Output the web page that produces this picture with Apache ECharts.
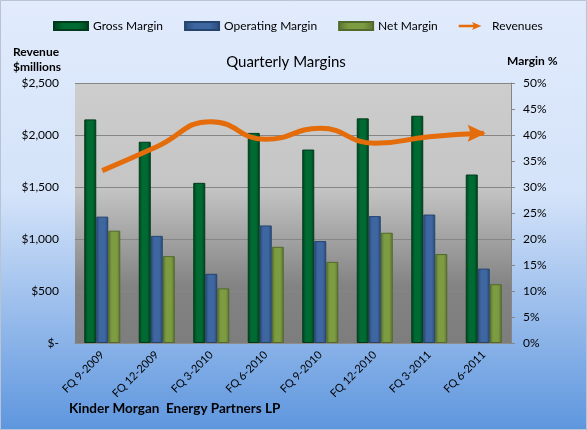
<!DOCTYPE html>
<html>
<head>
<meta charset="utf-8">
<script src="https://cdn.jsdelivr.net/npm/echarts@6/dist/echarts.min.js"></script>
<style>
  html, body { margin: 0; padding: 0; }
  #chart { width: 587px; height: 430px; }
</style>
</head>
<body>
<div id="chart"></div>
<script>
const quarters = ['FQ 9-2009', 'FQ 12-2009', 'FQ 3-2010', 'FQ 6-2010', 'FQ 9-2010', 'FQ 12-2010', 'FQ 3-2011', 'FQ 6-2011']
const grossMargin = [43.0, 38.7, 30.8, 40.4, 37.2, 43.2, 43.7, 32.4]
const operatingMargin = [24.3, 20.6, 13.3, 22.6, 19.6, 24.4, 24.7, 14.3]
const netMargin = [21.6, 16.7, 10.5, 18.5, 15.6, 21.2, 17.1, 11.3]
const revenues = [1657, 1887, 2128, 1959, 2064, 1920, 1984, 2016]

const font = 'Lato, "Open Sans", sans-serif'

// bevelled look for the bars
function barFill(edge, mid) {
    return new echarts.graphic.LinearGradient(0, 0, 1, 0, [
        { offset: 0, color: edge },
        { offset: 0.3, color: mid },
        { offset: 0.7, color: mid },
        { offset: 1, color: edge }
    ])
}

const myChart = echarts.init(document.getElementById('chart'))

// arrow head on the last revenue point
const arrowHead = 'path://M0,0 L18,8.5 L0,17 L3,8.5 Z'
const lastRev = revenues.length - 1
const revData = revenues.map((v, i) => i === lastRev
    ? { value: v, symbol: arrowHead, symbolSize: [18, 17], symbolOffset: [-7, 0] }
    : v)

const option = {
    animation: false,
    backgroundColor: new echarts.graphic.LinearGradient(0, 0, 0, 1, [
        { offset: 0, color: '#e1ebfc' },
        { offset: 0.45, color: '#d4e3f9' },
        { offset: 1, color: '#5e96de' }
    ]),
    textStyle: { fontFamily: font, color: '#000' },
    graphic: [{
        type: 'rect',
        shape: { x: 0.5, y: 0.5, width: 586, height: 429 },
        style: { fill: 'none', stroke: '#b8c4d4', lineWidth: 1 },
        silent: true
    }],
    title: [
        { text: 'Quarterly Margins', left: 286, top: 55, textAlign: 'center', padding: 0,
          textStyle: { fontSize: 15, fontWeight: 'normal', fontFamily: font, color: '#000' } },
        { text: 'Revenue\n$millions', left: 13, top: 45, padding: 0,
          textStyle: { fontSize: 12, fontWeight: 'bold', fontFamily: font, color: '#000', lineHeight: 15 } },
        { text: 'Margin %', left: 507, top: 55, padding: 0,
          textStyle: { fontSize: 12, fontWeight: 'bold', fontFamily: font, color: '#000' } },
        { text: 'Kinder Morgan  Energy Partners LP', left: 69, top: 402, padding: 0,
          textStyle: { fontSize: 13.5, fontWeight: 'bold', fontFamily: font, color: '#000' } }
    ],
    legend: {
        top: 20,
        left: 53,
        padding: 0,
        itemGap: 21,
        itemWidth: 34,
        itemHeight: 8,
        textStyle: { fontSize: 12, fontFamily: font, color: '#000' },
        data: [
            { name: 'Gross Margin', icon: 'rect' },
            { name: 'Operating Margin', icon: 'rect' },
            { name: 'Net Margin', icon: 'rect' },
            { name: 'Revenues', icon: 'path://M0,4 L22,4 L20,0 L34,6 L20,12 L22,8 L0,8 Z',
              itemStyle: { color: '#e46c0a' }, lineStyle: { width: 0 } }
        ]
    },
    grid: {
        left: 75,
        right: 76,
        top: 83,
        bottom: 87,
        show: true,
        borderWidth: 0,
        backgroundColor: new echarts.graphic.LinearGradient(0, 0, 0, 1, [
            { offset: 0, color: '#cdcdcd' },
            { offset: 0.4, color: '#c5c5c5' },
            { offset: 0.78, color: '#838383' },
            { offset: 1, color: '#7d7d7d' }
        ])
    },
    xAxis: {
        type: 'category',
        data: quarters,
        axisLine: { lineStyle: { color: '#8c8c8c' } },
        axisTick: { show: false },
        axisLabel: { rotate: 45, fontSize: 11, margin: 10, color: '#000', fontFamily: font }
    },
    yAxis: [
        {
            type: 'value',
            min: 0,
            max: 2500,
            interval: 500,
            axisLine: { show: false },
            axisTick: { show: false },
            splitLine: { lineStyle: { color: '#868686' } },
            axisLabel: {
                fontSize: 12, margin: 16, color: '#000', fontFamily: font,
                formatter: v => v === 0 ? '$-' : '$' + v.toLocaleString('en-US')
            }
        },
        {
            type: 'value',
            min: 0,
            max: 50,
            interval: 5,
            axisLine: { show: true, lineStyle: { color: '#868686' } },
            axisTick: { show: true, length: 4, lineStyle: { color: '#868686' } },
            splitLine: { show: false },
            axisLabel: { fontSize: 12, margin: 12, color: '#000', fontFamily: font, formatter: '{value}%' }
        }
    ],
    series: [
        {
            name: 'Gross Margin',
            type: 'bar',
            yAxisIndex: 1,
            data: grossMargin,
            barWidth: 12,
            barGap: '0%',
            itemStyle: { color: barFill('#00401d', '#006a33'), borderColor: '#003a1a', borderWidth: 1 }
        },
        {
            name: 'Operating Margin',
            type: 'bar',
            yAxisIndex: 1,
            data: operatingMargin,
            barWidth: 12,
            barGap: '0%',
            itemStyle: { color: barFill('#284a78', '#3e67a2'), borderColor: '#24446e', borderWidth: 1 }
        },
        {
            name: 'Net Margin',
            type: 'bar',
            yAxisIndex: 1,
            data: netMargin,
            barWidth: 12,
            barGap: '0%',
            itemStyle: { color: barFill('#5a7230', '#7d9c42'), borderColor: '#52692b', borderWidth: 1 }
        },
        {
            name: 'Revenues',
            type: 'line',
            yAxisIndex: 0,
            data: revData,
            smooth: true,
            symbol: 'none',
            z: 5,
            lineStyle: { color: '#e46c0a', width: 5, cap: 'butt' },
            itemStyle: { color: '#e46c0a' }
        }
    ]
}

myChart.setOption(option)
</script>
</body>
</html>
